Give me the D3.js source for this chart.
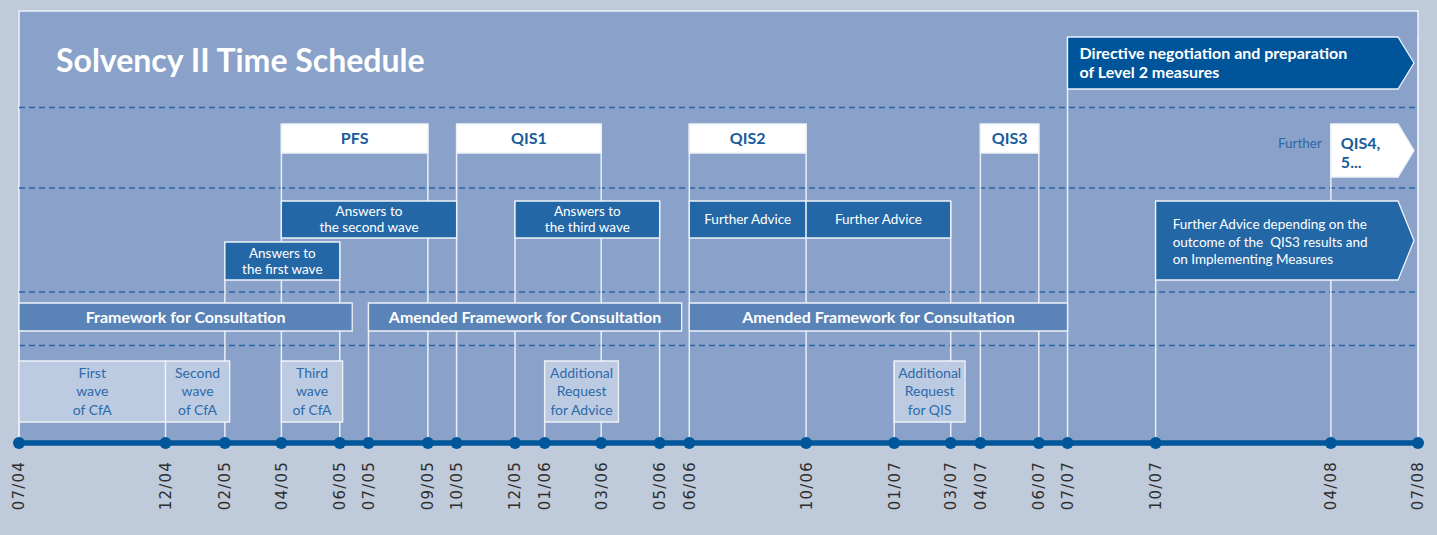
<!DOCTYPE html>
<html lang="en">
<head>
<meta charset="utf-8">
<script src="https://d3js.org/d3.v7.min.js"></script>
<style>
  body { margin: 0; background: #bfcadb; }
  svg { display: block; font-family: Lato, "Open Sans", sans-serif; }
</style>
</head>
<body>
<div id="my_dataviz"></div>
<script>
// milestones on the time axis (month/year)
const tickLabels = ["07/04", "12/04", "02/05", "04/05", "06/05", "07/05", "09/05", "10/05", "12/05", "01/06",
  "03/06", "05/06", "06/06", "10/06", "01/07", "03/07", "04/07", "06/07", "07/07", "10/07", "04/08", "07/08"];

// impact studies
const studyNames = [["PFS"], ["QIS1"], ["QIS2"], ["QIS3"]];
const studyStart = ["2005-04-01", "2005-10-01", "2006-06-01", "2007-04-01"];
const studyEnd = ["2005-09-01", "2006-03-01", "2006-10-01", "2007-06-01"];

// CEIOPS answers / advice
const adviceNames = [["Answers to", "the second wave"], ["Answers to", "the first wave"], ["Answers to", "the third wave"],
  ["Further Advice"], ["Further Advice"]];
const adviceStart = ["2005-04-01", "2005-02-01", "2005-12-01", "2006-06-01", "2006-10-01"];
const adviceEnd = ["2005-10-01", "2005-06-01", "2006-05-01", "2006-10-01", "2007-03-01"];
const adviceLane = [0, 1, 0, 0, 0];

// framework for consultation
const frameworkNames = [["Framework for Consultation"], ["Amended Framework for Consultation"], ["Amended Framework for Consultation"]];
const frameworkStart = ["2004-07-01", "2005-07-01", "2006-06-01"];
const frameworkEnd = ["2005-06-14", "2006-05-24", "2007-07-01"];

// calls for advice
const requestNames = [["First", "wave", "of CfA"], ["Second", "wave", "of CfA"], ["Third", "wave", "of CfA"],
  ["Additional", "Request", "for Advice"], ["Additional", "Request", "for QIS"]];
const requestStart = ["2004-07-01", "2004-12-01", "2005-04-01", "2006-01-01", "2007-01-01"];
const requestEnd = ["2004-12-01", "2005-02-06", "2005-06-04", "2006-03-19", "2007-03-16"];

// open ended items (arrows to the end of the axis)
const outlookNames = [["Directive negotiation and preparation", "of Level 2 measures"], ["QIS4,", "5..."],
  ["Further Advice depending on the", "outcome of the  QIS3 results and", "on Implementing Measures"]];
const outlookKind = ["directive", "study", "advice"];
const outlookStart = ["2007-07-01", "2008-04-01", "2007-10-01"];
const outlookEnd = "2008-07-01";

const W = 1437, H = 535;
const axisY = 443;
const parseTick = d3.timeParse("%m/%y");
const parseDay = d3.timeParse("%Y-%m-%d");
const tickDates = tickLabels.map(parseTick);

const x = d3.scaleTime()
  .domain([tickDates[0], tickDates[tickDates.length - 1]])
  .range([19, 1418]);

const svg = d3.select("#my_dataviz")
  .append("svg")
  .attr("width", W)
  .attr("height", H);

// panel
svg.append("rect")
  .attr("x", x.range()[0])
  .attr("y", 11)
  .attr("width", x.range()[1] - x.range()[0])
  .attr("height", axisY - 11)
  .attr("fill", "#8aa2c9")
  .attr("stroke", "#eef2f8")
  .attr("stroke-width", 1.5);

svg.append("text")
  .attr("x", 56)
  .attr("y", 72)
  .attr("fill", "#fff")
  .style("font-size", "32px")
  .style("font-weight", "bold")
  .text("Solvency II Time Schedule");

// dashed row separators
svg.selectAll(".sep")
  .data([107.5, 188, 292, 345.5])
  .join("line")
  .attr("x1", x.range()[0])
  .attr("x2", x.range()[1])
  .attr("y1", d => d)
  .attr("y2", d => d)
  .attr("stroke", "#2a66a6")
  .attr("stroke-width", 1.4)
  .attr("stroke-dasharray", "6,4");

// lanes: [top, bottom] and look of each group
const lanes = {
  directive: { y: [37, 89], arrowY: [37, 89], fill: "#00549a", color: "#fff", size: 16, weight: "bold", lh: 19, first: 22 },
  study: { y: [124, 153], arrowY: [124, 177], fill: "#fff", color: "#1a5b9c", size: 16, weight: "bold", lh: 19, first: 25 },
  advice: { y: [201, 238], arrowY: [201, 280], fill: "#2367a6", color: "#fff", size: 13.5, weight: "normal", lh: 16, first: 28, lh2: 17.5 },
  advice2: { y: [242, 280], fill: "#2367a6", color: "#fff", size: 13.5, weight: "normal", lh: 16 },
  framework: { y: [303, 331], fill: "#5a83b8", color: "#fff", size: 16, weight: "bold", lh: 18 },
  request: { y: [361, 422], fill: "#bccae2", color: "#2c6aa9", size: 14, weight: "normal", lh: 18.5 }
};

// collect all boxes
const boxes = [];
studyNames.forEach((n, i) => boxes.push({ lines: n, lane: "study", s: parseDay(studyStart[i]), e: parseDay(studyEnd[i]) }));
adviceNames.forEach((n, i) => boxes.push({ lines: n, lane: adviceLane[i] ? "advice2" : "advice", s: parseDay(adviceStart[i]), e: parseDay(adviceEnd[i]) }));
frameworkNames.forEach((n, i) => boxes.push({ lines: n, lane: "framework", s: parseDay(frameworkStart[i]), e: parseDay(frameworkEnd[i]) }));
requestNames.forEach((n, i) => boxes.push({ lines: n, lane: "request", s: parseDay(requestStart[i]), e: parseDay(requestEnd[i]) }));
outlookNames.forEach((n, i) => boxes.push({ lines: n, lane: outlookKind[i], arrow: true, s: parseDay(outlookStart[i]), e: parseDay(outlookEnd) }));

boxes.forEach(b => {
  const l = lanes[b.lane];
  [b.y0, b.y1] = b.arrow ? l.arrowY : l.y;
});

// white connectors from each milestone up to the highest box that starts/ends there
const reach = tickDates.map(t => {
  const hits = boxes.filter(b => +b.s === +t || +b.e === +t).map(b => b.y0);
  return hits.length ? d3.min(hits) : axisY;
});

svg.selectAll(".conn")
  .data(tickDates)
  .join("line")
  .attr("x1", d => x(d))
  .attr("x2", d => x(d))
  .attr("y1", (d, i) => reach[i])
  .attr("y2", axisY)
  .attr("stroke", "#e9eef6")
  .attr("stroke-width", 1.5);

// "Further" note before QIS4
svg.append("text")
  .attr("x", x(parseDay(outlookStart[1])) - 9)
  .attr("y", 148)
  .attr("text-anchor", "end")
  .attr("fill", "#2a67a8")
  .style("font-size", "13.5px")
  .text("Further");

// boxes
const g = svg.selectAll(".box")
  .data(boxes)
  .join("g");

g.append("path")
  .attr("d", b => {
    const x0 = x(b.s), x1 = x(b.e);
    if (b.arrow) {
      const xr = x1 - 20, tip = x1 - 4, ym = (b.y0 + b.y1) / 2;
      return `M${x0},${b.y0}H${xr}L${tip},${ym}L${xr},${b.y1}H${x0}Z`;
    }
    return `M${x0},${b.y0}H${x1}V${b.y1}H${x0}Z`;
  })
  .attr("fill", b => lanes[b.lane].fill)
  .attr("stroke", "#eef2f8")
  .attr("stroke-width", 1.3);

g.each(function (b) {
  const l = lanes[b.lane];
  const t = d3.select(this).append("text")
    .attr("fill", l.color)
    .style("font-size", l.size + "px")
    .style("font-weight", l.weight)
    .style("white-space", "pre");
  if (b.arrow) {
    const lh = l.lh2 || l.lh;
    t.attr("text-anchor", "start");
    b.lines.forEach((s, i) => t.append("tspan")
      .attr("x", x(b.s) + (b.lane === "advice" ? 17 : b.lane === "study" ? 10 : 12))
      .attr("y", b.y0 + l.first + i * lh)
      .text(s));
  } else {
    const cx = (x(b.s) + x(b.e)) / 2, cy = (b.y0 + b.y1) / 2;
    t.attr("text-anchor", "middle");
    b.lines.forEach((s, i) => t.append("tspan")
      .attr("x", cx)
      .attr("y", cy + (i - (b.lines.length - 1) / 2) * l.lh + 0.35 * l.size)
      .text(s));
  }
});

// time axis
svg.append("line")
  .attr("x1", x.range()[0])
  .attr("x2", x.range()[1])
  .attr("y1", axisY)
  .attr("y2", axisY)
  .attr("stroke", "#00569a")
  .attr("stroke-width", 5.5);

svg.selectAll(".dot")
  .data(tickDates)
  .join("circle")
  .attr("cx", d => x(d))
  .attr("cy", axisY)
  .attr("r", 6)
  .attr("fill", "#00569a");

svg.selectAll(".tick")
  .data(tickDates)
  .join("text")
  .attr("transform", d => `translate(${x(d)},461)rotate(-90)`)
  .attr("dy", "0.36em")
  .attr("text-anchor", "end")
  .attr("fill", "#2e2e2e")
  .style("font-family", "DejaVu Sans, sans-serif")
  .style("font-size", "15px")
  .style("letter-spacing", "1.2px")
  .text((d, i) => tickLabels[i]);
</script>
</body>
</html>
